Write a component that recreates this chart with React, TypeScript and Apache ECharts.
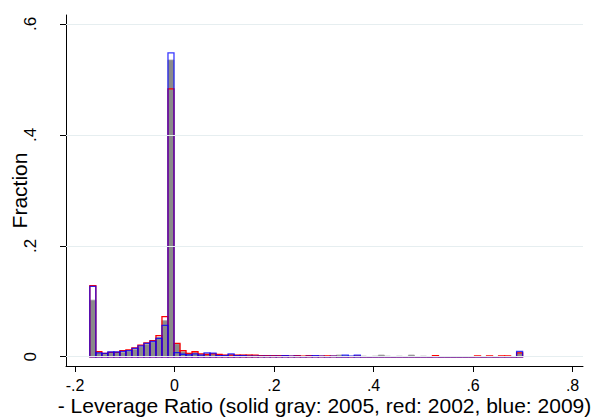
import React, { useEffect, useRef } from "react";
import * as echarts from "echarts";

// Histogram bins (fraction per bin), 72 equal-width bins
const BIN_START = -0.1702;
const BIN_WIDTH = 0.01208;

// solid gray: 2005
const gray2005 = [
  0.102, 0.007, 0.005, 0.008, 0.008, 0.008, 0.010, 0.013, 0.018, 0.022,
  0.026, 0.035, 0.065, 0.535, 0.023, 0.009, 0.006, 0.007, 0.004, 0.005,
  0.005, 0.003, 0.003, 0.004, 0.003, 0.003, 0.003, 0.002, 0.002, 0.002,
  0.002, 0.002, 0.002, 0.001, 0.002, 0.001, 0.002, 0.001, 0.001, 0.001,
  0.001, 0.003, 0.002, 0.001, 0.002, 0.001, 0.000, 0.001, 0.003, 0.001,
  0.000, 0.001, 0.000, 0.003, 0.000, 0.001, 0.000, 0.002, 0.000, 0.000,
  0.000, 0.000, 0.000, 0.000, 0.000, 0.000, 0.000, 0.000, 0.000, 0.000,
  0.000, 0.008,
];

// red: 2002
const red2002 = [
  0.128, 0.009, 0.006, 0.008, 0.008, 0.011, 0.0125, 0.016, 0.021, 0.025,
  0.029, 0.038, 0.0725, 0.483, 0.024, 0.011, 0.006, 0.009, 0.005, 0.004,
  0.005, 0.004, 0.003, 0.003, 0.003, 0.003, 0.003, 0.003, 0.002, 0.002,
  0.002, 0.002, 0.002, 0.001, 0.002, 0.001, 0.002, 0.001, 0.001, 0.0015,
  0.001, 0.000, 0.000, 0.000, 0.001, 0.000, 0.000, 0.000, 0.000, 0.000,
  0.000, 0.000, 0.000, 0.000, 0.000, 0.000, 0.000, 0.002, 0.000, 0.000,
  0.000, 0.000, 0.000, 0.000, 0.0015, 0.000, 0.0015, 0.000, 0.0015, 0.0015,
  0.000, 0.007,
];

// blue: 2009
const blue2009 = [
  0.127, 0.007, 0.006, 0.0085, 0.0085, 0.0095, 0.011, 0.015, 0.0195, 0.024,
  0.0275, 0.033, 0.0565, 0.548, 0.0075, 0.0045, 0.0035, 0.005, 0.003, 0.007,
  0.0065, 0.002, 0.002, 0.005, 0.002, 0.002, 0.001, 0.001, 0.001, 0.001,
  0.001, 0.001, 0.002, 0.001, 0.001, 0.000, 0.001, 0.002, 0.001, 0.000,
  0.001, 0.000, 0.003, 0.001, 0.003, 0.000, 0.000, 0.000, 0.000, 0.000,
  0.000, 0.000, 0.000, 0.000, 0.000, 0.000, 0.000, 0.000, 0.000, 0.000,
  0.000, 0.000, 0.000, 0.000, 0.000, 0.000, 0.000, 0.000, 0.000, 0.000,
  0.000, 0.0095,
];

const xTicks = [-0.2, 0, 0.2, 0.4, 0.6, 0.8];
const yTicks = [0, 0.2, 0.4, 0.6];

const X_NAME = "- Leverage Ratio (solid gray: 2005, red: 2002, blue: 2009)";
const Y_NAME = "Fraction";

const FONT = "'Liberation Sans', Arial, Helvetica, sans-serif";

function fmt(v: number): string {
  const s = String(+v.toFixed(3));
  return s.replace(/^(-?)0\./, "$1.");
}

function toBins(vals: number[]) {
  return vals.map((v, i) => [
    BIN_START + i * BIN_WIDTH,
    BIN_START + (i + 1) * BIN_WIDTH,
    v,
  ]);
}

function makeSeries(name: string, vals: number[], style: any, z: number) {
  return {
    type: "custom",
    name,
    z,
    data: toBins(vals),
    encode: { x: [0, 1], y: 2 },
    renderItem: (params: any, api: any) => {
      const p0 = api.coord([api.value(0), 0]);
      const p1 = api.coord([api.value(1), api.value(2)]);
      return {
        type: "rect",
        shape: {
          x: p0[0],
          y: p1[1],
          width: p1[0] - p0[0],
          height: p0[1] - p1[1],
        },
        style,
      };
    },
  };
}

export default function App() {
  const ref = useRef<HTMLDivElement>(null);
  useEffect(() => {
    if (!ref.current) return;
    const chart = echarts.init(ref.current, null, { renderer: "svg" });
    chart.setOption({
      animation: false,
      backgroundColor: "#ffffff",
      grid: {
        left: 66,
        right: 13,
        top: 15,
        bottom: 51,
        containLabel: false,
        outerBoundsMode: "none",
      },
      xAxis: {
        type: "value",
        min: -0.2181,
        max: 0.8209,
        name: X_NAME,
        nameLocation: "middle",
        nameGap: 29,
        nameMoveOverlap: false,
        nameTextStyle: { fontFamily: FONT, fontSize: 21, color: "#000" },
        axisLine: { show: true, onZero: false, lineStyle: { color: "#000", width: 1 } },
        axisTick: {
          show: true,
          length: 6,
          customValues: xTicks,
          lineStyle: { color: "#000", width: 1 },
        },
        axisLabel: {
          customValues: xTicks,
          formatter: (v: number) => fmt(v),
          fontFamily: FONT,
          fontSize: 16,
          lineHeight: 16,
          color: "#000",
          margin: 11,
        },
        splitLine: { show: false },
      },
      yAxis: {
        type: "value",
        min: -0.0167,
        max: 0.6162,
        name: Y_NAME,
        nameLocation: "middle",
        nameGap: 36,
        nameMoveOverlap: false,
        nameRotate: 90,
        nameTextStyle: { fontFamily: FONT, fontSize: 21, color: "#000" },
        axisLine: { show: true, onZero: false, lineStyle: { color: "#000", width: 1 } },
        axisTick: {
          show: true,
          length: 6,
          customValues: yTicks,
          lineStyle: { color: "#000", width: 1 },
        },
        axisLabel: {
          customValues: yTicks,
          formatter: (v: number) => fmt(v),
          rotate: 90,
          fontFamily: FONT,
          fontSize: 17,
          color: "#000",
          margin: 27,
        },
        splitLine: { show: false },
      },
      series: [
        {
          type: "line",
          data: [],
          z: 0,
          silent: true,
          markLine: {
            silent: true,
            symbol: "none",
            label: { show: false },
            lineStyle: { color: "#e6eef0", type: "solid", width: 1 },
            data: yTicks.map((t) => ({ yAxis: t })),
          },
        },
        makeSeries(
          "2005",
          gray2005,
          { fill: "#8a8a8a", stroke: "#a0a0a0", lineWidth: 0.8 },
          2
        ),
        makeSeries(
          "2002",
          red2002,
          { fill: "none", stroke: "#ff0000", lineWidth: 1.3 },
          3
        ),
        makeSeries(
          "2009",
          blue2009,
          { fill: "none", stroke: "rgba(0,0,255,0.78)", lineWidth: 1.3 },
          4
        ),
      ],
    });
    return () => chart.dispose();
  }, []);
  return (
    <div
      ref={ref}
      style={{ position: "absolute", left: 0, top: 0, width: 596, height: 417 }}
    />
  );
}
